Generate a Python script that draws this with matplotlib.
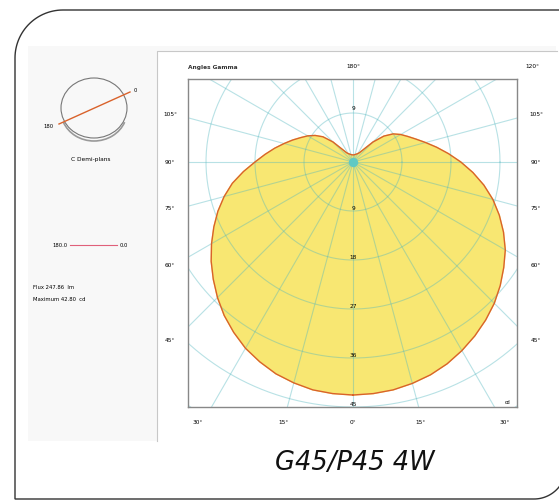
import numpy as np
import matplotlib
matplotlib.use("Agg")
from matplotlib import pyplot as plt
from matplotlib.patches import Ellipse, Rectangle, Polygon, Arc

# photometric data, C0 (right half) and C180 (left half), cd
gamma = [0, 5, 10, 15, 20, 25, 30, 35, 40, 45, 50, 55, 60, 65, 70, 75, 80, 85, 90,
         95, 100, 105, 110, 115, 120, 125, 130, 135, 140, 145, 150, 160, 170, 180]
c0 = [42.8, 42.7, 42.5, 42.1, 41.6, 40.9, 40.0, 39.0, 37.9, 36.7, 35.3, 33.8, 32.3, 30.5, 28.6, 26.6, 24.4, 22.1, 19.8,
      17.6, 15.6, 13.8, 12.3, 11.1, 10.1, 9.0, 7.4, 5.2, 3.0, 2.1, 1.8, 1.5, 1.35, 1.3]
c180 = [42.8, 42.7, 42.5, 42.0, 41.4, 40.5, 39.5, 38.2, 36.8, 35.2, 33.5, 31.8, 30.0, 28.2, 26.4, 24.5, 22.5, 20.2, 18.0,
        16.2, 14.6, 13.1, 11.8, 10.6, 9.6, 8.5, 7.2, 5.2, 3.0, 2.1, 1.8, 1.5, 1.35, 1.3]

rings = [9, 18, 27, 36, 45, 54, 63, 72]
ring_labels = ["9", "18", "27", "36", "45"]
side_labels = ["105°", "90°", "75°", "60°", "45°"]
bottom_labels = ["30°", "15°", "0°", "15°", "30°"]
flux = 247.86
imax = 42.80
title = "G45/P45 4W"

W, H = 559, 502
fig = plt.figure(figsize=(W / 100, H / 100), dpi=100)

# background axes in pixel units for the card and texts
bg = fig.add_axes([0, 0, 1, 1])
bg.set_xlim(0, W)
bg.set_ylim(H, 0)
bg.axis("off")

# card outline with rounded top-left / bottom-right corners
def arc(cx, cy, r, a0, a1):
    t = np.radians(np.linspace(a0, a1, 30))
    return np.column_stack([cx + r * np.cos(t), cy + r * np.sin(t)])

R = 48
pts = np.vstack([
    arc(15 + R, 11 + R, R, 180, 270),
    [[566, 11]],
    arc(566 - 32, 500 - 32, 32, 0, 90),
    [[15, 500]],
])
bg.add_patch(Polygon(pts, closed=True, fc="white", ec="#333333", lw=1.0))
bg.add_patch(Rectangle((28, 47), 528, 395, fc="#f8f8f8", ec="none"))
bg.add_patch(Rectangle((157, 52), 400, 390, fc="white", ec="none"))
bg.plot([157, 157, 557], [442, 52, 52], color="#c8c8c8", lw=0.8)

# left legend panel
bg.add_patch(Arc((94, 112), 66, 60, theta1=20, theta2=160, color="#999999", lw=1.2))
bg.add_patch(Ellipse((94, 109), 66, 60, fc="none", ec="#777777", lw=0.8))
bg.plot([59, 130], [125, 93], color="#d9622b", lw=1.0)
bg.text(54, 127, "180", fontsize=3.8, ha="right", va="center")
bg.text(134, 91, "0", fontsize=3.8, ha="left", va="center")
bg.text(91, 160, "C Demi-plans", fontsize=4.2, ha="center", va="center")
bg.text(68, 246, "180.0", fontsize=3.8, ha="right", va="center")
bg.plot([70, 117], [246, 246], color="#e0607a", lw=0.8)
bg.text(120, 246, "0.0", fontsize=3.8, ha="left", va="center")
bg.text(33, 288, "Flux %.2f  lm" % flux, fontsize=3.8, ha="left", va="center")
bg.text(33, 300, "Maximum %.2f  cd" % imax, fontsize=3.8, ha="left", va="center")

# angle labels around the diagram
bg.text(188, 67, "Angles Gamma", fontsize=4.2, ha="left", va="center", weight="bold", color="#333333")
bg.text(353, 67, "180°", fontsize=4.2, ha="center", va="center")
bg.text(532, 67, "120°", fontsize=4.2, ha="center", va="center")
for lab, y in zip(side_labels, [115, 163, 209, 266, 341]):
    bg.text(170, y, lab, fontsize=4.2, ha="center", va="center")
    bg.text(536, y, lab, fontsize=4.2, ha="center", va="center")
for lab, x in zip(bottom_labels, [198, 284, 353, 421, 505]):
    bg.text(x, 423, lab, fontsize=4.2, ha="center", va="center")

bg.text(355, 463, title, fontsize=18.5, style="italic", ha="center", va="center", color="#111111")

# polar diagram axes, data in cd
s = 49 / 9.0
cx, cy = 353, 163
l, r, t, b = 188, 517, 80, 408
ax = fig.add_axes([l / W, 1 - b / H, (r - l) / W, (b - t) / H])
ax.set_xlim((l - cx) / s, (r - cx) / s)
ax.set_ylim((cy - b) / s, (cy - t) / s)
ax.set_xticks([])
ax.set_yticks([])
for sp in ax.spines.values():
    sp.set_color("#888888")
    sp.set_linewidth(1.0)
ax.patch.set_alpha(0)

g = np.radians(gamma)
i0 = np.array(c0)
i180 = np.array(c180)
xs = np.concatenate([i0 * np.sin(g), (-i180 * np.sin(g))[::-1]])
ys = np.concatenate([-i0 * np.cos(g), (-i180 * np.cos(g))[::-1]])
ax.fill(xs, ys, color="#f8e772", zorder=1)

grid_c = "#4fb6bf"
th = np.linspace(0, 2 * np.pi, 400)
for rr in rings:
    ax.plot(rr * np.cos(th), rr * np.sin(th), color=grid_c, lw=0.8, alpha=0.4, zorder=2)
for a in np.radians(np.arange(0, 360, 15)):
    ax.plot([0, 90 * np.sin(a)], [0, -90 * np.cos(a)], color=grid_c, lw=0.8, alpha=0.4, zorder=2)

ax.plot(xs, ys, color="#d9622b", lw=1.0, zorder=3)
ax.scatter([0], [0], s=45, color="#5fc9c4", zorder=4, lw=0)

for lab, rr in zip(ring_labels, [9, 18, 27, 36, 45]):
    ax.text(0, -rr + 0.7, lab, fontsize=4.2, ha="center", va="center", zorder=5)
ax.text(0, 10.1, "9", fontsize=4.2, ha="center", va="center", zorder=5)
ax.text(29.0, -44.0, "cd", fontsize=3.5, ha="right", va="center", zorder=5)

fig.savefig("out.png", dpi=100)
